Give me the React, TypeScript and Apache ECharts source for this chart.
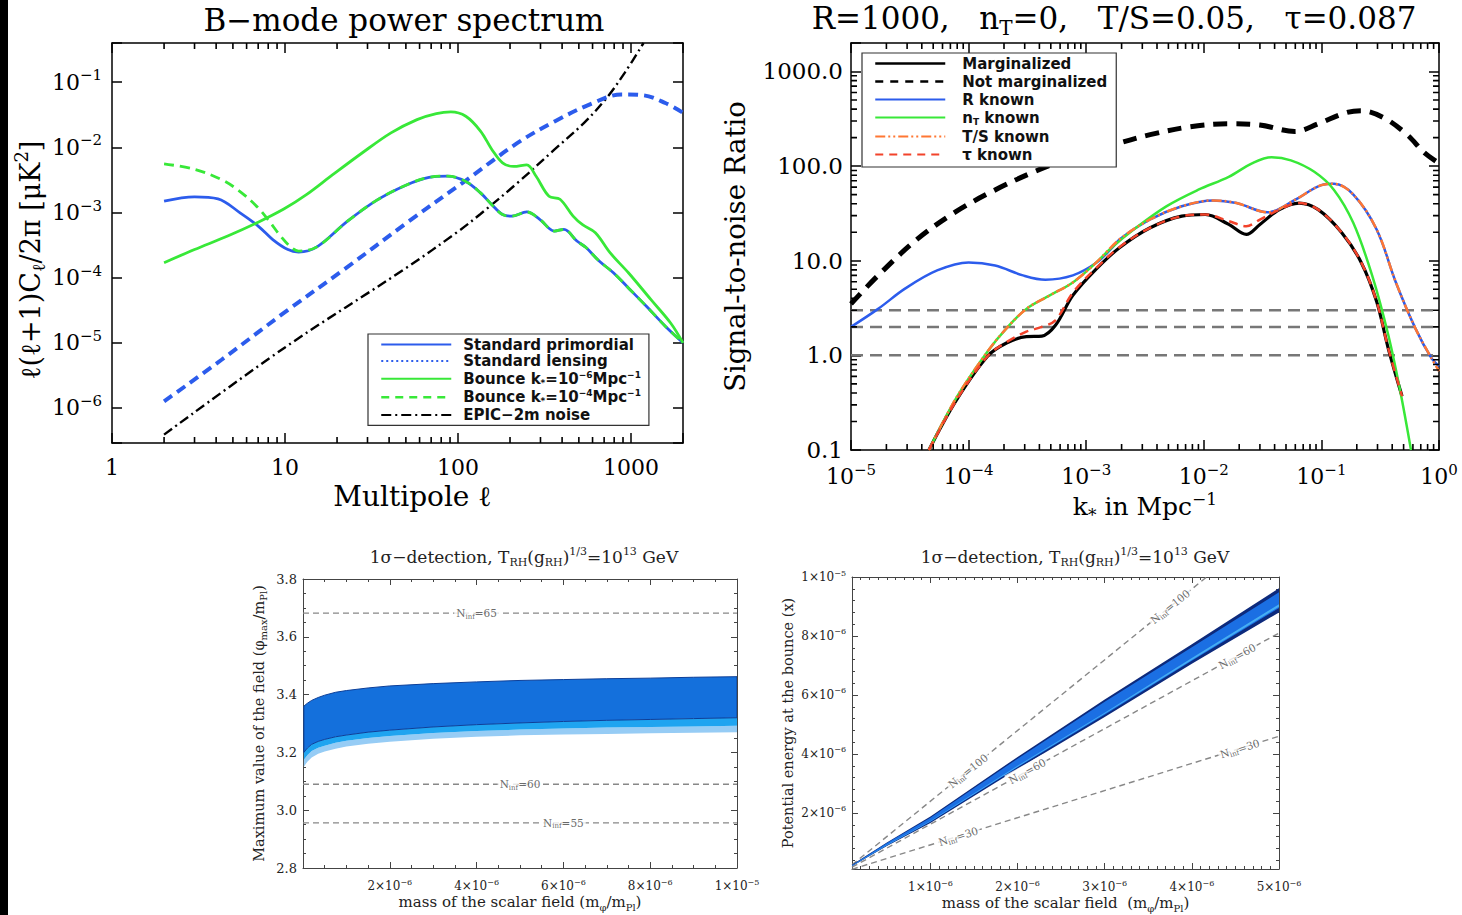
import { useEffect, useRef } from 'react';
import * as echarts from 'echarts';

const SERIF = "'DejaVu Serif', serif";
const SANS = "'DejaVu Sans', sans-serif";

// ---------- B-mode power spectrum: l(l+1)C_l/2pi [muK^2] ----------
const ellPrimordial = [2, 3, 4.1, 5.5, 7, 8.5, 10.4, 12, 15.4, 22.9, 34, 50, 68, 87, 111, 135, 157, 181, 205, 250, 298, 362, 410, 487, 550, 655, 795, 970, 1233, 1580, 2000];
const clPrimordial = [1.49e-3, 1.74e-3, 1.62e-3, 9.9e-4, 6.2e-4, 3.85e-4, 2.7e-4, 2.48e-4, 3.0e-4, 7.3e-4, 1.55e-3, 2.63e-3, 3.47e-3, 3.63e-3, 3.0e-3, 2.0e-3, 1.32e-3, 9.3e-4, 8.8e-4, 1.02e-3, 7.8e-4, 5.2e-4, 5.5e-4, 3.65e-4, 2.9e-4, 1.8e-4, 1.18e-4, 6.9e-5, 3.6e-5, 1.8e-5, 1.0e-5];

const ellLensing = [2, 4.3, 9.9, 22.9, 50, 111, 221, 362, 593, 880, 1183, 1580, 2000];
const clLensing = [1.26e-6, 5.5e-6, 2.9e-5, 1.45e-4, 6.8e-4, 3.1e-3, 0.0117, 0.025, 0.047, 0.065, 0.063, 0.048, 0.034];

const ellBounce6 = [2, 3, 4.7, 7, 9.9, 13.3, 18.8, 27.9, 41, 58, 75, 91, 111, 135, 157, 181, 210, 250, 283, 336, 389, 463, 525, 623, 759, 970, 1306, 1700, 2000];
const clBounce6 = [1.7e-4, 2.7e-4, 4.4e-4, 7.1e-4, 1.14e-3, 1.88e-3, 3.77e-3, 8.2e-3, 0.0167, 0.0267, 0.033, 0.035, 0.030, 0.0178, 9.3e-3, 5.8e-3, 5.1e-3, 5.4e-3, 3.6e-3, 1.78e-3, 1.6e-3, 8.8e-4, 6.5e-4, 4.9e-4, 2.4e-4, 1.18e-4, 4.6e-5, 2.0e-5, 1.0e-5];

const ellBounce4 = [2, 3, 4.3, 5.5, 7, 8.1, 9.4, 10.9, 12, 15.4, 22.9, 34, 50, 68, 87, 111, 135, 157, 181, 205, 250, 298, 362, 410, 487, 550, 655, 795, 970, 1233, 1580, 2000];
const clBounce4 = [5.6e-3, 4.6e-3, 3.2e-3, 2.1e-3, 1.18e-3, 7.4e-4, 4.4e-4, 2.9e-4, 2.56e-4, 3.0e-4, 7.3e-4, 1.55e-3, 2.63e-3, 3.47e-3, 3.63e-3, 3.0e-3, 2.0e-3, 1.32e-3, 9.3e-4, 8.8e-4, 1.02e-3, 7.8e-4, 5.2e-4, 5.5e-4, 3.65e-4, 2.9e-4, 1.8e-4, 1.18e-4, 6.9e-5, 3.6e-5, 1.8e-5, 1.0e-5];

const ellNoise = [2, 10, 50, 100, 135, 221, 362, 538, 722, 920, 1183];
const clNoise = [3.9e-7, 8.5e-6, 1.4e-4, 5.1e-4, 9.5e-4, 2.85e-3, 9.3e-3, 0.024, 0.057, 0.139, 0.40];

// ---------- Signal-to-noise ratio vs k* [Mpc^-1] ----------
const kMarg = [4.6e-5, 7.8e-5, 1.45e-4, 2.1e-4, 3.1e-4, 4.2e-4, 5.5e-4, 7.7e-4, 1.22e-3, 1.93e-3, 3.5e-3, 6.5e-3, 0.0103, 0.0163, 0.023, 0.03, 0.0439, 0.0645, 0.094, 0.149, 0.218, 0.295, 0.37, 0.485];
const snMarg = [0.1, 0.33, 0.98, 1.35, 1.58, 1.6, 2.09, 4.3, 8.2, 13.8, 22.3, 29.6, 30.8, 24.2, 19.0, 24.2, 34.7, 40.7, 34.7, 19.8, 9.6, 3.7, 1.19, 0.37];
const snTauKnown = [0.1, 0.33, 0.98, 1.38, 1.78, 2.0, 2.36, 4.6, 8.4, 14.0, 22.3, 29.6, 30.8, 26.2, 23.2, 27.2, 34.7, 40.7, 34.7, 19.8, 9.6, 3.7, 1.19, 0.37];

const kNotMarg = [1e-5, 1.7e-5, 3.66e-5, 7.8e-5, 1.68e-4, 3.6e-4, 7.7e-4, 1.65e-3, 3.5e-3, 7.6e-3, 0.0163, 0.03, 0.0596, 0.094, 0.16, 0.218, 0.346, 0.544, 0.74, 0.96];
const snNotMarg = [3.5, 7.0, 16.9, 33, 56, 87, 125, 166, 215, 260, 280, 272, 232, 280, 365, 385, 320, 211, 141, 111];

const kRKnown = [1e-5, 1.7e-5, 2.9e-5, 5.4e-5, 1e-4, 1.68e-4, 2.9e-4, 4.5e-4, 7.7e-4, 1.22e-3, 1.65e-3, 1.93e-3, 3.5e-3, 6.5e-3, 0.012, 0.019, 0.035, 0.06, 0.1, 0.128, 0.187, 0.295, 0.43, 0.63, 0.86, 1.0];
const snRKnown = [2.0, 3.1, 5.1, 7.9, 9.6, 8.9, 7.0, 6.3, 7.0, 9.5, 13.6, 16.9, 27.3, 37.6, 43.4, 40.7, 32.5, 44.2, 63, 65, 50, 21.4, 5.9, 1.93, 0.94, 0.77];

const kNtKnown = [4.6e-5, 7.8e-5, 1.45e-4, 2.1e-4, 3.1e-4, 4.9e-4, 7.7e-4, 1.22e-3, 1.65e-3, 2.55e-3, 4.8e-3, 8.9e-3, 0.0163, 0.0257, 0.0377, 0.055, 0.087, 0.128, 0.187, 0.27, 0.37, 0.468, 0.578];
const snNtKnown = [0.1, 0.35, 1.1, 1.93, 3.1, 4.3, 5.9, 9.6, 13.8, 21.5, 37.6, 56, 77, 107, 124, 115, 87, 56, 25, 7.0, 1.65, 0.42, 0.1];

const kTsKnown = [4.6e-5, 7.8e-5, 1.45e-4, 2.1e-4, 3.1e-4, 4.9e-4, 7.7e-4, 1.22e-3, 1.93e-3, 3.5e-3, 6.5e-3, 0.012, 0.019, 0.035, 0.06, 0.1, 0.128, 0.187, 0.295, 0.43, 0.63, 0.86, 1.0];
const snTsKnown = [0.1, 0.35, 1.1, 1.93, 3.1, 4.3, 5.9, 9.6, 16.9, 27.3, 37.6, 43.4, 40.7, 32.5, 44.2, 63, 65, 50, 21.4, 5.9, 1.93, 0.94, 0.68];

const snThresholds = [1, 2, 3];

// ---------- phi_max vs scalar mass ----------
const massPhi = [0.02e-6, 0.1e-6, 0.2e-6, 0.35e-6, 0.5e-6, 0.75e-6, 1e-6, 1.5e-6, 2e-6, 3e-6, 4e-6, 5e-6, 6e-6, 7e-6, 8e-6, 9e-6, 10e-6];
const phiTop = [3.36, 3.37, 3.38, 3.39, 3.398, 3.408, 3.414, 3.423, 3.43, 3.438, 3.444, 3.449, 3.452, 3.455, 3.457, 3.46, 3.462];
const phiMid = [3.2, 3.215, 3.228, 3.238, 3.245, 3.254, 3.26, 3.27, 3.277, 3.288, 3.296, 3.302, 3.307, 3.311, 3.314, 3.317, 3.32];
const phiLow = [3.175, 3.19, 3.205, 3.216, 3.223, 3.233, 3.24, 3.25, 3.257, 3.267, 3.274, 3.279, 3.283, 3.286, 3.288, 3.29, 3.292];
const phiBottom = [3.15, 3.168, 3.182, 3.195, 3.203, 3.213, 3.22, 3.23, 3.237, 3.247, 3.254, 3.259, 3.262, 3.264, 3.266, 3.268, 3.27];
const phiEfolds = [65, 60, 55];
const phiEfoldLevels = [3.682, 3.09, 2.956];
const phiEfoldLabelMass = [4.0e-6, 5.0e-6, 6.0e-6];

// ---------- potential energy at the bounce vs scalar mass ----------
const massX = [0.1e-6, 0.5e-6, 1e-6, 2e-6, 3e-6, 4e-6, 5e-6];
const xOuterTop = [0.24e-6, 1.0e-6, 1.88e-6, 3.9e-6, 5.85e-6, 7.72e-6, 9.62e-6];
const xOuterBottom = [0.19e-6, 0.88e-6, 1.66e-6, 3.49e-6, 5.25e-6, 7.06e-6, 8.8e-6];
const xInnerTop = [0.23e-6, 0.98e-6, 1.84e-6, 3.84e-6, 5.77e-6, 7.62e-6, 9.48e-6];
const xInnerBottom = [0.2e-6, 0.9e-6, 1.7e-6, 3.55e-6, 5.33e-6, 7.16e-6, 8.95e-6];
const xStripeTop = [0.21e-6, 0.92e-6, 1.73e-6, 3.6e-6, 5.4e-6, 7.25e-6, 9.08e-6];
const xStripeBottom = [0.205e-6, 0.905e-6, 1.71e-6, 3.57e-6, 5.36e-6, 7.19e-6, 8.99e-6];

const xEfolds = [100, 60, 30];
const xEfoldMass = [[1e-7, 4.17e-6], [1e-7, 5e-6], [1e-7, 5e-6]];
const xEfoldEnergy = [[0.24e-6, 1e-5], [0.16e-6, 8.1e-6], [0.09e-6, 4.6e-6]];
const xEfoldLabelMass = [[1.43e-6, 3.75e-6], [2.11e-6, 4.52e-6], [1.32e-6, 4.55e-6]];
const xEfoldLabelEnergy = [[3.43e-6, 9.0e-6], [3.42e-6, 7.32e-6], [1.21e-6, 4.18e-6]];
const xEfoldAngle = [39, 29, 17.5];

const BLUE = '#2c5cec';
const GREEN = '#38e838';
const ORANGE = '#ff7733';
const RED = '#f2432b';

// axis indices: grid g uses xAxis/yAxis 2g (labelled) and 2g+1 (mirrored frame)
const G_SPEC = 0;
const G_SNR = 2;
const G_PHI = 4;
const G_POT = 6;

// grid boxes (px)
const TL = { left: 112, top: 43, width: 571, height: 400 };
const TR = { left: 851, top: 43, width: 588, height: 407 };
const BL = { left: 303, top: 579, width: 434, height: 289 };
const BR = { left: 852, top: 577, width: 427, height: 292 };

// axis ranges
const tlX = [1, 2000];
const tlY = [2.9e-7, 0.4];
const trX = [1e-5, 1];
const trY = [0.1, 2000];
const brX = [1e-7, 5e-6];
const brY = [1e-7, 1e-5];

const pairs = (xs: number[], ys: number[]) => xs.map((x, i) => [x, ys[i]]);

const richText = (size: number, color = '#000', weight: any = 'normal', family = SERIF) => {
  const small = Math.round(size * 0.66);
  return {
    a: { fontFamily: family, fontSize: size, fontWeight: weight, lineHeight: Math.round(size * 1.3), color },
    p: { fontFamily: family, fontSize: small, fontWeight: weight, lineHeight: small, verticalAlign: 'top', color },
    s: { fontFamily: family, fontSize: small, fontWeight: weight, lineHeight: small, verticalAlign: 'bottom', color },
  };
};

const isPow10 = (v: number) => {
  const l = Math.log10(v);
  return Math.abs(l - Math.round(l)) < 1e-6;
};
const expText = (e: number) => (e < 0 ? '−' + -e : String(e));
const powLabel = (v: number) => (isPow10(v) ? `{a|10}{p|${expText(Math.round(Math.log10(v)))}}` : '');
const sciLabel = (lo: number) => (v: number) => {
  if (v < lo) return '';
  const e = Math.floor(Math.log10(v) + 1e-9);
  const m = v / Math.pow(10, e);
  if (Math.abs(m - Math.round(m)) > 1e-6) return '';
  return `{a|${Math.round(m)}×10}{p|${expText(e)}}`;
};

// log-axis minor tick positions (2..9 per decade)
const logMinor = (lo: number, hi: number) => {
  const out: number[] = [];
  for (let e = Math.floor(Math.log10(lo)); e <= Math.ceil(Math.log10(hi)); e++) {
    for (let m = 2; m <= 9; m++) {
      const v = m * Math.pow(10, e);
      if (v > lo && v < hi) out.push(v);
    }
  }
  return out;
};

// Minor ticks of a log/log frame as broken line series: each tick runs inward from
// the frame edge by `len` px, converted to a multiplicative step on the other log axis.
const minorTickSeries = (ai: number, xr: number[], yr: number[], box: { width: number; height: number }, len: number, onX: boolean) => {
  const style = { color: '#000', width: 1.6 };
  if (onX) {
    const step = Math.pow(yr[1] / yr[0], len / box.height);
    return [
      [yr[0], yr[0] * step],
      [yr[1], yr[1] / step],
    ].map(([from, to]) => ({
      type: 'line', xAxisIndex: ai, yAxisIndex: ai, symbol: 'none', silent: true, clip: false, z: 8,
      connectNulls: false, lineStyle: style, emphasis: { disabled: true },
      data: logMinor(xr[0], xr[1]).flatMap((v) => [[v, from], [v, to], [v, '-']]),
    }));
  }
  const step = Math.pow(xr[1] / xr[0], len / box.width);
  return [
    [xr[0], xr[0] * step],
    [xr[1], xr[1] / step],
  ].map(([from, to]) => ({
    type: 'line', xAxisIndex: ai, yAxisIndex: ai, symbol: 'none', silent: true, clip: false, z: 8,
    connectNulls: false, lineStyle: style, emphasis: { disabled: true },
    data: logMinor(yr[0], yr[1]).flatMap((v) => [[from, v], [to, v], ['-', v]]),
  }));
};

const band = (ai: number, xs: number[], top: number[], bottom: number[], fill: string, stroke?: string, z = 2) => ({
  type: 'custom', xAxisIndex: ai, yAxisIndex: ai, silent: true, clip: true, z,
  data: [[xs[0], top[0]]],
  renderItem: (_p: any, api: any) => {
    const pts: number[][] = [];
    xs.forEach((x, i) => pts.push(api.coord([x, top[i]])));
    for (let i = xs.length - 1; i >= 0; i--) pts.push(api.coord([xs[i], bottom[i]]));
    return {
      type: 'polygon',
      shape: { points: pts },
      style: { fill, stroke: stroke || 'none', lineWidth: stroke ? 1 : 0 },
    };
  },
});

const frameLine = (color: string, width: number) => ({ show: true, onZero: false, lineStyle: { color, width } });

function buildOption() {
  const topTick = { inside: true, length: 10, lineStyle: { color: '#000', width: 1.5 } };
  const botTick = { inside: true, length: 6, lineStyle: { color: '#444', width: 1 } };
  const botMinor = (n: number) => ({ show: true, splitNumber: n, length: 3, lineStyle: { color: '#444', width: 1 } });

  const bLabel = richText(12, '#222');

  const xAxis: any[] = [
    {
      gridIndex: 0, type: 'log', min: tlX[0], max: tlX[1], position: 'bottom',
      axisLine: frameLine('#000', 1.5), axisTick: topTick, splitLine: { show: false },
      axisLabel: { formatter: (v: number) => (isPow10(v) ? String(Math.round(v)) : ''), fontFamily: SERIF, fontSize: 22, color: '#000', margin: 13 },
      name: 'Multipole ℓ', nameLocation: 'middle', nameGap: 39,
      nameTextStyle: { fontFamily: SERIF, fontSize: 28, color: '#000', padding: [0, 0, 0, 30] },
    },
    { gridIndex: 0, type: 'log', min: tlX[0], max: tlX[1], position: 'top', axisLine: frameLine('#000', 1.5), axisTick: topTick, axisLabel: { show: false }, splitLine: { show: false } },
    {
      gridIndex: 1, type: 'log', min: trX[0], max: trX[1], position: 'bottom',
      axisLine: frameLine('#000', 1.5), axisTick: topTick, splitLine: { show: false },
      axisLabel: { formatter: powLabel, rich: richText(22), margin: 12 },
      name: '{a|k}{s|*}{a| in Mpc}{p|−1}', nameLocation: 'middle', nameGap: 40,
      nameTextStyle: { rich: richText(25) },
    },
    { gridIndex: 1, type: 'log', min: trX[0], max: trX[1], position: 'top', axisLine: frameLine('#000', 1.5), axisTick: topTick, axisLabel: { show: false }, splitLine: { show: false } },
    {
      gridIndex: 2, type: 'value', min: 0, max: 1e-5, position: 'bottom',
      axisLine: frameLine('#444', 1), axisTick: botTick, minorTick: botMinor(4), splitLine: { show: false },
      axisLabel: { formatter: sciLabel(1e-7), rich: bLabel, margin: 10 },
      name: '{a|mass of the scalar field (m}{s|φ}{a|/m}{s|Pl}{a|)}', nameLocation: 'middle', nameGap: 24,
      nameTextStyle: { rich: richText(15, '#222') },
    },
    { gridIndex: 2, type: 'value', min: 0, max: 1e-5, position: 'top', axisLine: frameLine('#444', 1), axisTick: botTick, minorTick: botMinor(4), axisLabel: { show: false }, splitLine: { show: false } },
    {
      gridIndex: 3, type: 'value', min: brX[0], max: brX[1], position: 'bottom',
      axisLine: frameLine('#444', 1), axisTick: botTick, minorTick: botMinor(10), splitLine: { show: false },
      axisLabel: { formatter: sciLabel(5e-7), rich: bLabel, margin: 10 },
      name: '{a|mass of the scalar field  (m}{s|φ}{a|/m}{s|Pl}{a|)}', nameLocation: 'middle', nameGap: 24,
      nameTextStyle: { rich: richText(15, '#222') },
    },
    { gridIndex: 3, type: 'value', min: brX[0], max: brX[1], position: 'top', axisLine: frameLine('#444', 1), axisTick: botTick, minorTick: botMinor(10), axisLabel: { show: false }, splitLine: { show: false } },
  ];

  const yAxis: any[] = [
    {
      gridIndex: 0, type: 'log', min: tlY[0], max: tlY[1], position: 'left',
      axisLine: frameLine('#000', 1.5), axisTick: topTick, splitLine: { show: false },
      axisLabel: { formatter: powLabel, rich: richText(22), margin: 10 },
      name: '{a|ℓ(ℓ+1)C}{s|ℓ}{a|/2π [μK}{p|2}{a|]}', nameLocation: 'middle', nameGap: 62,
      nameTextStyle: { rich: richText(27), padding: [0, 34, 0, 0] },
    },
    { gridIndex: 0, type: 'log', min: tlY[0], max: tlY[1], position: 'right', axisLine: frameLine('#000', 1.5), axisTick: topTick, axisLabel: { show: false }, splitLine: { show: false } },
    {
      gridIndex: 1, type: 'log', min: trY[0], max: trY[1], position: 'left',
      axisLine: frameLine('#000', 1.5), axisTick: topTick, splitLine: { show: false },
      axisLabel: { formatter: (v: number) => (isPow10(v) ? v.toFixed(1) : ''), fontFamily: SERIF, fontSize: 23, color: '#000', margin: 8 },
      name: 'Signal-to-noise Ratio', nameLocation: 'middle', nameGap: 102,
      nameTextStyle: { fontFamily: SERIF, fontSize: 27.5, color: '#000' },
    },
    { gridIndex: 1, type: 'log', min: trY[0], max: trY[1], position: 'right', axisLine: frameLine('#000', 1.5), axisTick: topTick, axisLabel: { show: false }, splitLine: { show: false } },
    {
      gridIndex: 2, type: 'value', min: 2.8, max: 3.8, interval: 0.2, position: 'left',
      axisLine: frameLine('#444', 1), axisTick: botTick, minorTick: botMinor(4), splitLine: { show: false },
      axisLabel: { formatter: (v: number) => v.toFixed(1), fontFamily: SERIF, fontSize: 13, color: '#222', margin: 6 },
      name: '{a|Maximum value of the field (φ}{s|max}{a|/m}{s|Pl}{a|)}', nameLocation: 'middle', nameGap: 35,
      nameTextStyle: { rich: richText(14.5, '#222') },
    },
    { gridIndex: 2, type: 'value', min: 2.8, max: 3.8, interval: 0.2, position: 'right', axisLine: frameLine('#444', 1), axisTick: botTick, minorTick: botMinor(4), axisLabel: { show: false }, splitLine: { show: false } },
    {
      gridIndex: 3, type: 'value', min: brY[0], max: brY[1], position: 'left',
      axisLine: frameLine('#444', 1), axisTick: botTick, minorTick: botMinor(5), splitLine: { show: false },
      axisLabel: { formatter: sciLabel(5e-7), rich: bLabel, margin: 6 },
      name: 'Potential energy at the bounce (x)', nameLocation: 'middle', nameGap: 57,
      nameTextStyle: { fontFamily: SERIF, fontSize: 14.5, color: '#222' },
    },
    { gridIndex: 3, type: 'value', min: brY[0], max: brY[1], position: 'right', axisLine: frameLine('#444', 1), axisTick: botTick, minorTick: botMinor(5), axisLabel: { show: false }, splitLine: { show: false } },
  ];

  const line = (name: string, ai: number, xs: number[], ys: number[], color: string, width: number, type: any = 'solid', z = 3, smooth: any = 0.35) => ({
    type: 'line', name, xAxisIndex: ai, yAxisIndex: ai, data: pairs(xs, ys), symbol: 'none', showSymbol: false,
    smooth, z, clip: true, lineStyle: { color, width, type }, itemStyle: { color }, emphasis: { disabled: true },
  });

  const series: any[] = [
    // B-mode spectra
    line('EPIC-2m noise', G_SPEC, ellNoise, clNoise, '#000', 2.4, [10, 4, 2, 4], 3),
    line('Standard lensing', G_SPEC, ellLensing, clLensing, BLUE, 4, [10, 6], 3),
    line('Standard primordial', G_SPEC, ellPrimordial, clPrimordial, BLUE, 2.8, 'solid', 4),
    line('Bounce k6', G_SPEC, ellBounce6, clBounce6, GREEN, 2.8, 'solid', 4),
    line('Bounce k4', G_SPEC, ellBounce4, clBounce4, GREEN, 2.8, [10, 6], 5),
    ...minorTickSeries(G_SPEC, tlX, tlY, TL, 6, true),

    // signal-to-noise
    ...snThresholds.map((s) => ({
      type: 'line', xAxisIndex: G_SNR, yAxisIndex: G_SNR, data: [[trX[0], s], [trX[1], s]], symbol: 'none', z: 2,
      lineStyle: { color: '#777', width: 2.5, type: [12, 7] }, emphasis: { disabled: true },
    })),
    line('Not marginalized', G_SNR, kNotMarg, snNotMarg, '#000', 5, [14, 9], 3),
    line('Marginalized', G_SNR, kMarg, snMarg, '#000', 3.2, 'solid', 4),
    line('R known', G_SNR, kRKnown, snRKnown, BLUE, 2.5, 'solid', 4),
    line('nT known', G_SNR, kNtKnown, snNtKnown, GREEN, 2.5, 'solid', 4),
    line('T/S known', G_SNR, kTsKnown, snTsKnown, ORANGE, 2.5, [10, 3, 2, 3, 2, 3], 5),
    line('tau known', G_SNR, kMarg, snTauKnown, RED, 2.5, [9, 6], 6),
    ...minorTickSeries(G_SNR, trX, trY, TR, 6, true),
    ...minorTickSeries(G_SNR, trX, trY, TR, 6, false),

    // phi_max band
    band(G_PHI, massPhi, phiLow, phiBottom, '#96ccf5', undefined, 2),
    band(G_PHI, massPhi, phiMid, phiLow, '#1fa4f0', undefined, 3),
    band(G_PHI, massPhi, phiTop, phiMid, '#1470dc', '#0c3f99', 4),
    ...phiEfoldLevels.map((lvl) => ({
      type: 'line', xAxisIndex: G_PHI, yAxisIndex: G_PHI, data: [[0, lvl], [1e-5, lvl]], symbol: 'none', z: 5,
      lineStyle: { color: '#888', width: 1.4, type: [6, 4] }, emphasis: { disabled: true },
    })),
    {
      type: 'scatter', xAxisIndex: G_PHI, yAxisIndex: G_PHI, symbolSize: 0, z: 6, silent: true,
      data: phiEfolds.map((n, i) => ({ value: [phiEfoldLabelMass[i], phiEfoldLevels[i]], n })),
      label: {
        show: true, position: 'inside', backgroundColor: '#fff', padding: [0, 2],
        formatter: (p: any) => `{a|N}{s|inf}{a|=${p.data.n}}`, rich: richText(10.5, '#444'),
      },
    },

    // potential energy band
    ...xEfolds.map((_, i) => ({
      type: 'line', xAxisIndex: G_POT, yAxisIndex: G_POT, data: pairs(xEfoldMass[i], xEfoldEnergy[i]), symbol: 'none', z: 3,
      lineStyle: { color: '#888', width: 1.4, type: [6, 4] }, emphasis: { disabled: true },
    })),
    band(G_POT, massX, xOuterTop, xOuterBottom, '#0d2a7c', undefined, 4),
    band(G_POT, massX, xInnerTop, xInnerBottom, '#1b6fe3', undefined, 5),
    band(G_POT, massX, xStripeTop, xStripeBottom, '#45aef3', undefined, 6),
    ...xEfolds.map((n, i) => ({
      type: 'scatter', xAxisIndex: G_POT, yAxisIndex: G_POT, symbolSize: 0, z: 7, silent: true,
      data: pairs(xEfoldLabelMass[i], xEfoldLabelEnergy[i]),
      label: {
        show: true, position: 'inside', rotate: xEfoldAngle[i], backgroundColor: '#fff', padding: [0, 2],
        formatter: `{a|N}{s|inf}{a|=${n}}`, rich: richText(10.5, '#444'),
      },
    })),
  ];

  const legendRich = {
    a: { fontFamily: SANS, fontWeight: 'bold', fontSize: 15, lineHeight: 17, color: '#111' },
    p: { fontFamily: SANS, fontWeight: 'bold', fontSize: 9, lineHeight: 9, verticalAlign: 'top', color: '#111' },
    s: { fontFamily: SANS, fontWeight: 'bold', fontSize: 9, lineHeight: 9, verticalAlign: 'bottom', color: '#111' },
  };
  const legendNames: Record<string, string> = {
    'Standard primordial': '{a|Standard primordial}',
    'Standard lensing': '{a|Standard lensing}',
    'Bounce k6': '{a|Bounce k}{s|*}{a|=10}{p|−6}{a|Mpc}{p|−1}',
    'Bounce k4': '{a|Bounce k}{s|*}{a|=10}{p|−4}{a|Mpc}{p|−1}',
    'EPIC-2m noise': '{a|EPIC−2m noise}',
    Marginalized: '{a|Marginalized}',
    'Not marginalized': '{a|Not marginalized}',
    'R known': '{a|R known}',
    'nT known': '{a|n}{s|T}{a| known}',
    'T/S known': '{a|T/S known}',
    'tau known': '{a|τ known}',
  };
  const legendBase = {
    orient: 'vertical', itemWidth: 70, itemHeight: 14, selectedMode: false,
    borderColor: '#333', borderWidth: 1.2, backgroundColor: '#fff', z: 20,
    itemStyle: { opacity: 0 },
    formatter: (n: string) => legendNames[n] || n,
  };

  const title = (text: string, x: number, y: number, rich: any) => ({
    text, left: x, top: y, textAlign: 'center', padding: 0, textStyle: { rich },
  });

  return {
    animation: false,
    backgroundColor: '#fff',
    title: [
      title('{a|B−mode power spectrum}', 404, 0, richText(31)),
      title('{a|R=1000,   n}{s|T}{a|=0,   T/S=0.05,   τ=0.087}', 1114, -2, richText(31)),
      title('{a|1σ−detection, T}{s|RH}{a|(g}{s|RH}{a|)}{p|1/3}{a|=10}{p|13}{a| GeV}', 524, 546, richText(17, '#222')),
      title('{a|1σ−detection, T}{s|RH}{a|(g}{s|RH}{a|)}{p|1/3}{a|=10}{p|13}{a| GeV}', 1075, 546, richText(17, '#222')),
    ],
    grid: [
      { ...TL, containLabel: false },
      { ...TR, containLabel: false },
      { ...BL, containLabel: false },
      { ...BR, containLabel: false },
    ],
    xAxis,
    yAxis,
    legend: [
      {
        ...legendBase, left: 368, top: 334, itemGap: 1.6, padding: [3, 8, 3, 12],
        textStyle: { rich: legendRich, padding: [0, 0, 0, 7] },
        data: [
          { name: 'Standard primordial' },
          { name: 'Standard lensing', lineStyle: { type: [2, 3], width: 2 } },
          { name: 'Bounce k6' },
          { name: 'Bounce k4', lineStyle: { type: [8, 6], width: 2.5 } },
          { name: 'EPIC-2m noise' },
        ],
      },
      {
        ...legendBase, left: 862, top: 53, itemGap: 3, padding: [3, 9, 5, 12],
        textStyle: { rich: legendRich, padding: [0, 0, 0, 12] },
        data: [
          { name: 'Marginalized', lineStyle: { width: 2.5 } },
          { name: 'Not marginalized', lineStyle: { width: 2.5, type: [8, 7] } },
          { name: 'R known' },
          { name: 'nT known' },
          { name: 'T/S known' },
          { name: 'tau known', lineStyle: { type: [8, 6] } },
        ],
      },
    ],
    // dark border strip along the left edge of the page
    graphic: [
      { type: 'rect', z: 100, shape: { x: 0, y: 0, width: 8, height: 915 }, style: { fill: '#000' } },
    ],
    series,
  };
}

export default function App() {
  const ref = useRef<HTMLDivElement>(null);
  useEffect(() => {
    if (!ref.current) return;
    const chart = echarts.init(ref.current, undefined, { renderer: 'svg' });
    chart.setOption(buildOption() as any);
    return () => chart.dispose();
  }, []);
  return <div ref={ref} style={{ position: 'fixed', left: 0, top: 0, width: 1462, height: 915, background: '#fff' }} />;
}
